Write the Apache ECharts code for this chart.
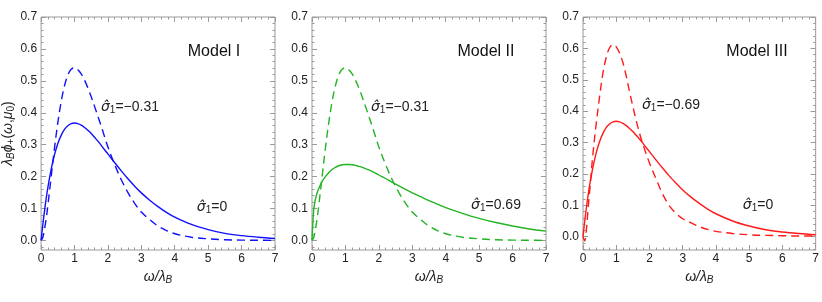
<!DOCTYPE html>
<html>
<head>
<meta charset="utf-8">
<script src="https://cdn.jsdelivr.net/npm/echarts@6/dist/echarts.min.js"></script>
<style>html,body{margin:0;padding:0;background:#fff}#c{width:822px;height:302px}</style>
</head>
<body>
<div id="c"></div>
<script>
// ---- data ----
const omega = [0,0.05,0.1,0.15,0.2,0.3,0.4,0.5,0.6,0.7,0.8,0.9,1.0,1.1,1.2,1.3,1.4,1.5,1.6,1.7,1.8,1.9,2.0,2.2,2.4,2.6,2.8,3.0,3.25,3.5,3.75,4.0,4.5,5.0,5.5,6.0,6.5,7.0];
// sigma1 = 0 (Models I and III, solid)
const solidSigma0 = [0,0.0476,0.0905,0.129,0.164,0.222,0.268,0.303,0.329,0.348,0.359,0.366,0.368,0.366,0.361,0.354,0.345,0.335,0.323,0.311,0.298,0.284,0.271,0.244,0.218,0.193,0.170,0.149,0.126,0.106,0.088,0.073,0.050,0.034,0.022,0.015,0.010,0.006];
// sigma1 = -0.31 (Models I and II, dashed)
const dashedSigmaM031 = [0,0.009,0.033,0.066,0.107,0.198,0.288,0.368,0.434,0.484,0.518,0.536,0.541,0.535,0.522,0.502,0.478,0.450,0.420,0.389,0.358,0.325,0.293,0.238,0.190,0.150,0.116,0.089,0.065,0.045,0.031,0.021,0.010,0.005,0.002,0.001,0.0005,0.0002];
// sigma1 = 0.69 (Model II, solid)
const solidSigma069 = [0,0.095,0.128,0.148,0.162,0.184,0.200,0.212,0.222,0.229,0.234,0.237,0.238,0.238,0.237,0.235,0.232,0.229,0.225,0.221,0.216,0.211,0.205,0.194,0.182,0.171,0.160,0.149,0.137,0.125,0.114,0.103,0.085,0.069,0.056,0.045,0.036,0.029];
// sigma1 = -0.69 (Model III, dashed)
const dashedSigmaM069 = [0,-0.014,0.02,0.085,0.145,0.265,0.362,0.447,0.522,0.572,0.602,0.612,0.605,0.585,0.555,0.512,0.462,0.415,0.370,0.330,0.295,0.264,0.235,0.183,0.135,0.098,0.074,0.057,0.044,0.032,0.023,0.017,0.010,0.006,0.004,0.003,0.002,0.002];

const yTicks = [0,0.1,0.2,0.3,0.4,0.5,0.6,0.7];
const yMinor = [-0.04,-0.02,0.02,0.04,0.06,0.08,0.12,0.14,0.16,0.18,0.22,0.24,0.26,0.28,0.32,0.34,0.36,0.38,0.42,0.44,0.46,0.48,0.52,0.54,0.56,0.58,0.62,0.64,0.66,0.68];
const modelNames = ['Model I','Model II','Model III'];
const sigmaDashLabels = ['−0.31','−0.31','−0.69'];
const sigmaSolidLabels = ['0','0.69','0'];
const colors = ['#1010ff','#22b422','#ff1a1a'];

// ---- layout ----
const FONT = '"Liberation Sans", Arial, sans-serif';
const gridLefts = [41, 312, 583];
const gridW = 234;
const yMins = [-0.03, -0.03, -0.0425];
const panels = [
  {solid: solidSigma0, dashed: dashedSigmaM031},
  {solid: solidSigma069, dashed: dashedSigmaM031},
  {solid: solidSigma0, dashed: dashedSigmaM069}
];
const TICK = '#9a9a9a';
const sub = {fontSize: 10, fontFamily: FONT, verticalAlign: 'bottom', lineHeight: 11, color: '#222'};
const subI = Object.assign({}, sub, {fontStyle: 'italic'});

const grids = [], xAxes = [], yAxes = [], series = [], graphics = [];
const pair = arr => omega.map((w, i) => [w, arr[i]]);

panels.forEach((p, g) => {
  grids.push({left: gridLefts[g], width: gridW, top: 17, bottom: 52, show: true, borderColor: TICK, borderWidth: 1, backgroundColor: 'transparent'});
  const xBase = {gridIndex: g, type: 'value', min: 0, max: 7, interval: 1,
    axisLine: {show: false, onZero: false}, splitLine: {show: false},
    axisTick: {inside: true, length: 5, lineStyle: {color: TICK}},
    minorTick: {show: true, splitNumber: 5, length: 2.5, lineStyle: {color: TICK}}};
  xAxes.push(Object.assign({}, xBase, {position: 'bottom',
    axisLabel: {fontSize: 12, color: '#222', fontFamily: FONT, margin: 3},
    name: '{i|ω/λ}{si|B}', nameLocation: 'middle', nameGap: 18,
    nameTextStyle: {rich: {i: {fontSize: 14, fontStyle: 'italic', fontFamily: FONT, color: '#222', lineHeight: 17}, si: subI}}}));
  xAxes.push(Object.assign({}, xBase, {position: 'top', axisLabel: {show: false}}));
  const yBase = {gridIndex: g, type: 'value', min: yMins[g], max: 0.7,
    axisLine: {show: false, onZero: false}, splitLine: {show: false}};
  const yLeft = Object.assign({}, yBase, {position: 'left',
    axisTick: {inside: true, length: 5, lineStyle: {color: TICK}, customValues: yTicks},
    axisLabel: {fontSize: 12, color: '#222', fontFamily: FONT, margin: 4, customValues: yTicks, formatter: v => v.toFixed(1)}});
  if (g === 0) {
    Object.assign(yLeft, {name: '{i|λ}{si|B}{i|ϕ}{s|+}{n|(}{i|ω}{n|,}{i|μ}{s|0}{n|)}', nameLocation: 'middle', nameGap: 23, nameRotate: 90,
      nameTextStyle: {rich: {
        i: {fontSize: 14, fontStyle: 'italic', fontFamily: FONT, color: '#222', lineHeight: 17},
        n: {fontSize: 14, fontFamily: FONT, color: '#222', lineHeight: 17},
        s: sub, si: subI}}});
  }
  const yIdx = yAxes.length;
  yAxes.push(yLeft);
  yAxes.push(Object.assign({}, yBase, {position: 'left', axisLabel: {show: false},
    axisTick: {inside: true, length: 2.5, lineStyle: {color: TICK}, customValues: yMinor}}));
  yAxes.push(Object.assign({}, yBase, {position: 'right', axisLabel: {show: false},
    axisTick: {inside: true, length: 5, lineStyle: {color: TICK}, customValues: yTicks}}));
  yAxes.push(Object.assign({}, yBase, {position: 'right', axisLabel: {show: false},
    axisTick: {inside: true, length: 2.5, lineStyle: {color: TICK}, customValues: yMinor}}));

  const common = {type: 'line', xAxisIndex: g * 2, yAxisIndex: yIdx, showSymbol: false, smooth: 0.35, animation: false, silent: true};
  series.push(Object.assign({}, common, {data: pair(p.dashed), lineStyle: {color: colors[g], width: 1.4, type: [8, 5]}}));
  series.push(Object.assign({}, common, {data: pair(p.solid), lineStyle: {color: colors[g], width: 1.4}}));
});

// text annotations
const sigRich = {
  g: {fontSize: 14, fontStyle: 'italic', fontFamily: '"DejaVu Sans", sans-serif', fill: '#222', lineHeight: 17},
  t: {fontSize: 14, fontFamily: FONT, fill: '#222', lineHeight: 17},
  s: {fontSize: 10, fontFamily: FONT, fill: '#222', lineHeight: 11, verticalAlign: 'bottom'}
};
const modelPos = [[214, 52], [486, 52], [757, 52]];
const dashPos = [[130, 107], [400, 107], [671, 105]];
const solidPos = [[212, 207], [496, 205], [758, 205]];
for (let g = 0; g < 3; g++) {
  graphics.push({type: 'text', x: modelPos[g][0], y: modelPos[g][1], silent: true,
    style: {text: modelNames[g], font: '16px ' + FONT, fill: '#111', align: 'center', verticalAlign: 'middle'}});
  graphics.push({type: 'text', x: dashPos[g][0], y: dashPos[g][1], silent: true,
    style: {text: '{g|σ̂}{s|1}{t|=' + sigmaDashLabels[g] + '}', rich: sigRich, align: 'center', verticalAlign: 'middle'}});
  graphics.push({type: 'text', x: solidPos[g][0], y: solidPos[g][1], silent: true,
    style: {text: '{g|σ̂}{s|1}{t|=' + sigmaSolidLabels[g] + '}', rich: sigRich, align: 'center', verticalAlign: 'middle'}});
}

const chart = echarts.init(document.getElementById('c'), null, {renderer: 'canvas'});
chart.setOption({animation: false, grid: grids, xAxis: xAxes, yAxis: yAxes, series: series, graphic: graphics});
</script>
</body>
</html>
